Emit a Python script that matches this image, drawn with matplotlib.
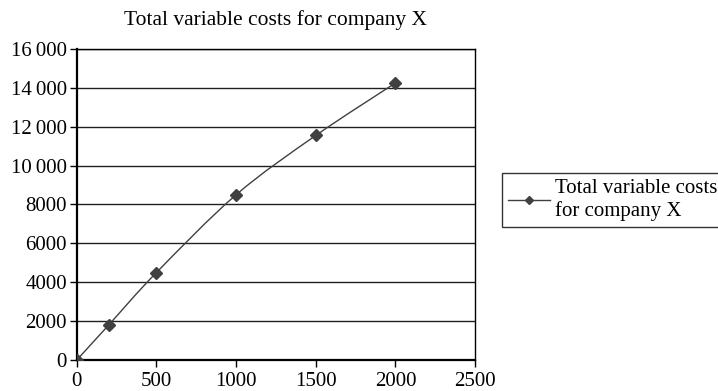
import matplotlib.pyplot as plt
from matplotlib.path import Path
from matplotlib.patches import PathPatch
from matplotlib.lines import Line2D
from matplotlib.ticker import FuncFormatter
import numpy as np

# data
volume = [0, 200, 500, 1000, 1500, 2000]
costs = [0, 1800, 4500, 8500, 11550, 14250]
series_name = "Total variable costs\nfor company X"
title = "Total variable costs for company X"

plt.rcParams['font.family'] = ['Liberation Serif', 'DejaVu Serif']
line_col = "#404040"


def smooth_path(x, y):
    # cubic bezier through the points, spreadsheet-style smoothing
    pts = np.column_stack([x, y]).astype(float)
    verts = [pts[0]]
    codes = [Path.MOVETO]
    n = len(pts)
    for i in range(n - 1):
        p0 = pts[i - 1] if i > 0 else pts[i]
        p1 = pts[i]
        p2 = pts[i + 1]
        p3 = pts[i + 2] if i + 2 < n else pts[i + 1]
        c1 = p1 + (p2 - p0) / 6.0
        c2 = p2 - (p3 - p1) / 6.0
        verts += [c1, c2, p2]
        codes += [Path.CURVE4] * 3
    return Path(verts, codes)


fig = plt.figure(figsize=(7.18, 3.91), dpi=100)
ax = fig.add_axes([0.107, 0.0793, 0.5546, 0.7954])

ax.add_patch(PathPatch(smooth_path(volume, costs), facecolor="none",
                       edgecolor=line_col, lw=1.0, zorder=3))
ax.plot(volume, costs, ls="none", marker="D", ms=6.5, color=line_col, zorder=4)

ax.set_xlim(0, 2500)
ax.set_ylim(0, 16000)
ax.set_xticks(np.arange(0, 2501, 500))
ax.set_yticks(np.arange(0, 16001, 2000))


def fmt(v, pos):
    v = int(v)
    if v >= 10000:
        return f"{v // 1000}\u2009{v % 1000:03d}"
    return str(v)


ax.yaxis.set_major_formatter(FuncFormatter(fmt))
ax.grid(axis="y", color="#202020", lw=1.0)
ax.set_axisbelow(True)
ax.tick_params(labelsize=15, direction="out", length=5, color="black", width=1)
ax.tick_params(axis="x", pad=4)
ax.tick_params(axis="y", pad=2)
for side in ["left", "bottom"]:
    ax.spines[side].set_linewidth(1.6)
for side in ["top", "right"]:
    ax.spines[side].set_linewidth(1.0)
ax.set_title(title, fontsize=15.5, pad=17)

handle = Line2D([], [], color=line_col, lw=1.0, marker="D", ms=4.5)
leg = fig.legend([handle], [series_name], loc="upper left",
                 bbox_to_anchor=(0.699, 0.5575), bbox_transform=fig.transFigure,
                 fontsize=15, frameon=True, fancybox=False, borderaxespad=0,
                 handlelength=2.0, handletextpad=0.25, labelspacing=0.1,
                 borderpad=0.3)
leg.get_frame().set_edgecolor("black")
leg.get_frame().set_linewidth(1.0)

fig.savefig("out.png", dpi=100)
